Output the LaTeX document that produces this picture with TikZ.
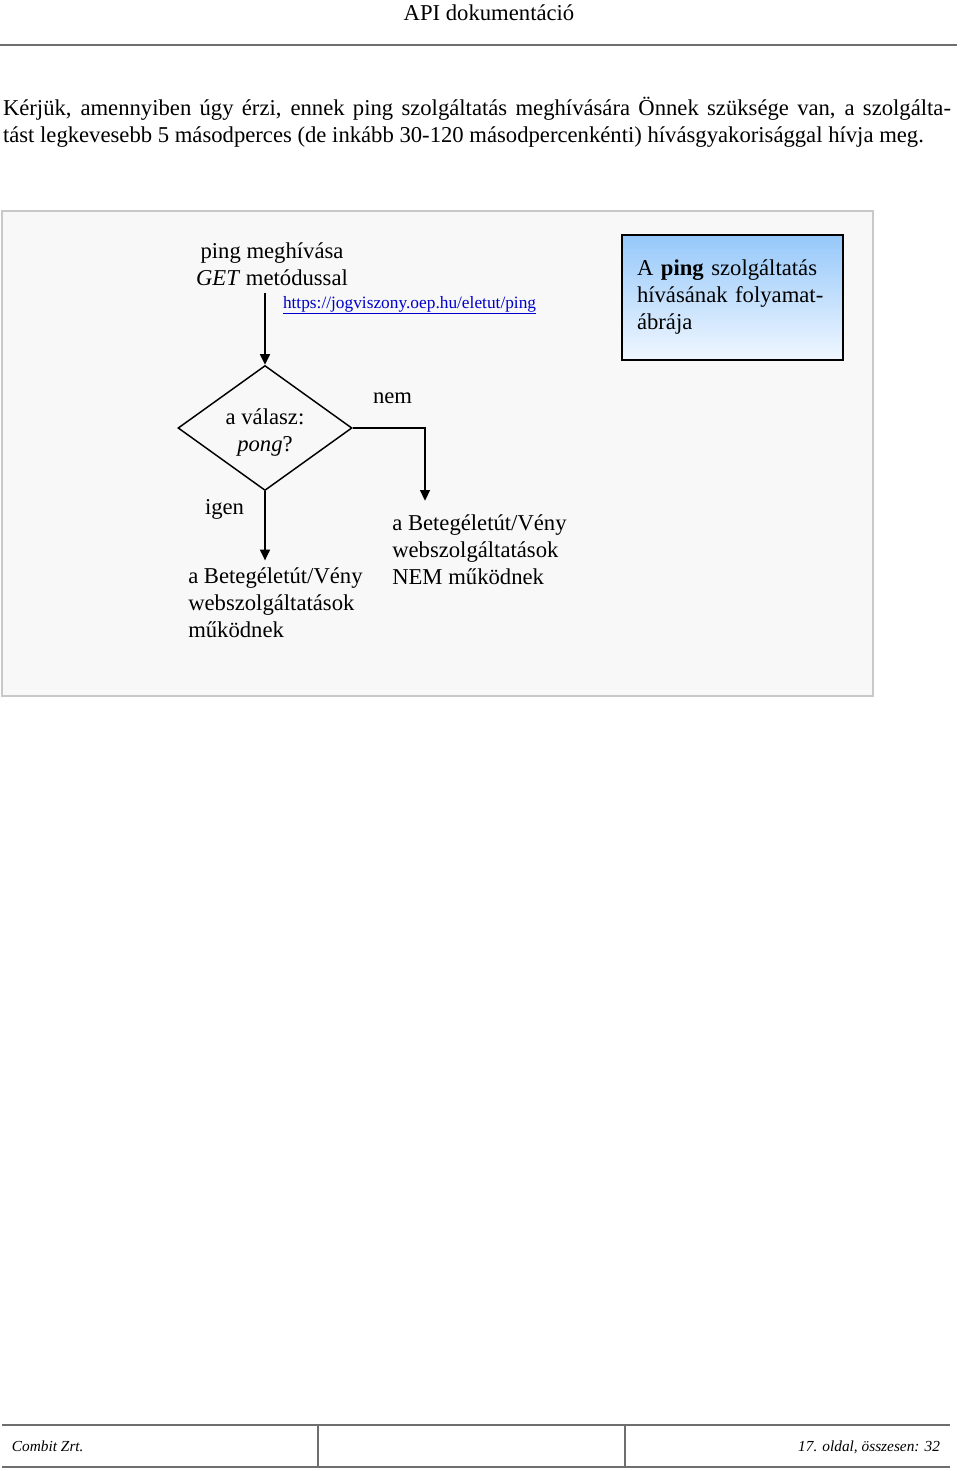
\documentclass[tikz,border=0pt]{standalone}
\usepackage{fontspec}
\setmainfont{Liberation Serif}
\usetikzlibrary{arrows.meta, positioning, shapes.geometric, calc}
\definecolor{paneledge}{RGB}{200,200,200}
\definecolor{panelfill}{RGB}{248,248,248}
\definecolor{linkblue}{RGB}{0,0,204}
\definecolor{boxtop}{RGB}{150,200,250}
\definecolor{boxbottom}{RGB}{240,247,255}
\definecolor{rulegray}{RGB}{110,110,110}

\begin{document}
\begin{tikzpicture}[x=0.75pt, y=-0.75pt, font=\fontsize{17}{20.25}\selectfont,
    >={Triangle[length=8pt,width=7.5pt]},
    txt/.style={inner sep=0pt, outer sep=0pt},
    decision/.style={diamond, draw, line width=1.1pt, aspect=1.4, minimum width=130.5pt, minimum height=93.75pt, inner sep=0pt, align=center},
    result/.style={inner sep=0pt, anchor=north west, align=left},
    flow/.style={->, line width=1.1pt},
    rule/.style={draw=rulegray, line width=1.4pt}]
  \fill[white] (0,0) rectangle (960,1471);
  \useasboundingbox (0,0) rectangle (960,1471);

  % Page header
  \node[txt, anchor=base] (title) at (489,20) {API dokumentáció};
  \draw[rule] (0,45) -- (957,45);

  % Intro text
  \node[txt, anchor=base west] (intro1) at (3,115) {\makebox[711pt][s]{Kérjük, amennyiben úgy érzi, ennek ping szolgáltatás meghívására Önnek szüksége van, a szolgálta-}};
  \node[txt, anchor=base west] (intro2) at (3,142) {tást legkevesebb 5 másodperces (de inkább 30-120 másodpercenkénti) hívásgyakorisággal hívja meg.};

  % Frame of the figure
  \draw[draw=paneledge, fill=panelfill, line width=1.5pt] (2,211) rectangle (873,696);

  % Caption box
  \node[draw, line width=1.1pt, top color=boxtop, bottom color=boxbottom, minimum width=165.75pt, minimum height=93.75pt, text width=143.25pt, align=left, inner sep=0pt] (caption) at (732.5,297.5)
    {\makebox[143.25pt][s]{A \textbf{ping} szolgáltatás}\\\makebox[143.25pt][s]{hívásának folyamat-}\\ábrája};

  % Steps
  \node[txt, anchor=north, align=center] (call) at (272,243) {ping meghívása\\\textit{GET} metódussal};
  \node[txt, anchor=base west, font=\fontsize{13}{15}\selectfont, text=linkblue] (link) at (283,308) {\underline{https://jogviszony.oep.hu/eletut/ping}};
  \node[decision] (valasz) at (265,428) {\rule{0pt}{18pt}a válasz:\\\textit{pong}?};
  \node[result] (igenres) at (188,567) {a Betegéletút/Vény\\webszolgáltatások\\működnek};
  \node[result] (nemres) at (392,514) {a Betegéletút/Vény\\webszolgáltatások\\NEM működnek};

  % Branch labels
  \node[txt, anchor=base west] (nem) at (373,403) {nem};
  \node[txt, anchor=base west] (igen) at (205,514) {igen};

  % Arrows
  \draw[flow, shorten <=5pt] (call.south -| valasz.north) -- (valasz.north);
  \draw[flow, shorten >=5pt] (valasz.south) -- (valasz.south |- igenres.north);
  \draw[flow, shorten >=10pt] (valasz.east) -| ([xshift=24.75pt]nemres.north west);

  % Page footer
  \draw[rule] (2,1425) -- (950,1425);
  \draw[rule] (2,1467) -- (950,1467);
  \draw[rule] (318,1425) -- (318,1467);
  \draw[rule] (625,1425) -- (625,1467);
  \node[txt, anchor=base west, font=\fontsize{11.5}{13}\selectfont\itshape] (ceg) at (12,1451) {Combit Zrt.};
  \node[txt, anchor=base east, font=\fontsize{11.5}{13}\selectfont\itshape] (oldal) at (940,1451) {17. oldal, összesen: 32};
\end{tikzpicture}
\end{document}
